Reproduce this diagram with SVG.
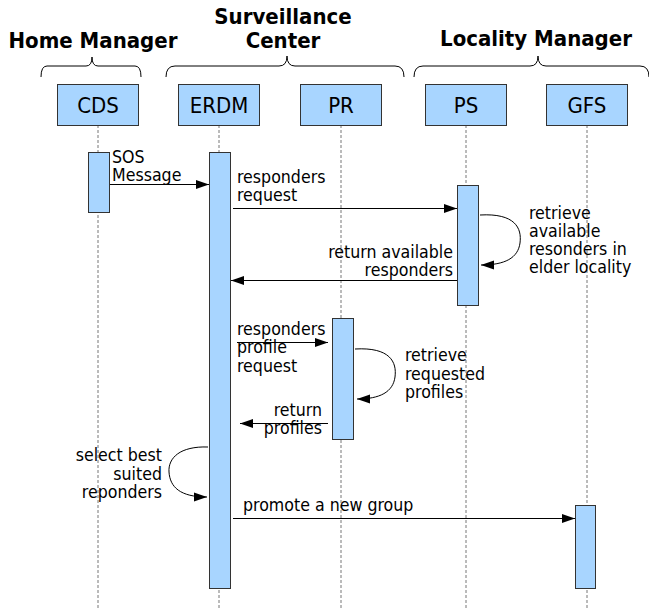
<svg xmlns="http://www.w3.org/2000/svg" width="649" height="610" viewBox="0 0 649 610">
<style>
.t{font-family:"DejaVu Sans Condensed","DejaVu Sans",sans-serif;font-stretch:condensed;font-size:17.6px;fill:#000}
.b{font-size:22px}
.h{font-family:"DejaVu Sans Condensed","DejaVu Sans",sans-serif;font-stretch:condensed;font-weight:bold;font-size:22px;fill:#000;text-anchor:middle}
.e{text-anchor:end}
.m{text-anchor:middle}
.box{fill:#a8d5ff;stroke:#333;stroke-width:1}
.bar{fill:#a8d5ff;stroke:#333;stroke-width:1}
.life{stroke:#777;stroke-width:1;stroke-dasharray:3,2;fill:none}
.msg{stroke:#000;stroke-width:1;fill:none;marker-end:url(#ah)}
.brace{stroke:#000;stroke-width:1;fill:none}
</style>
<defs>
<marker id="ah" markerWidth="13" markerHeight="10" refX="13" refY="5" orient="auto" markerUnits="userSpaceOnUse">
<path d="M0,0.5 L13,5 L0,9.5 Z" fill="#000"/>
</marker>
</defs>
<rect width="649" height="610" fill="#fff"/>
<g id="groups">
<text class="h" x="93" y="48">Home Manager</text>
<path class="brace" d="M41,77 Q41,66 47,66 L86,66 Q92,66 92,57 Q92,66 98,66 L135,66 Q141,66 141,77"/>
<text class="h" x="283" y="24">Surveillance</text>
<text class="h" x="283" y="48">Center</text>
<path class="brace" d="M166,77 Q166,66 175,66 L279,66 Q287,66 287,56 Q287,66 295,66 L395,66 Q404,66 404,77"/>
<text class="h" x="536" y="46">Locality Manager</text>
<path class="brace" d="M414,77 Q414,66 423,66 L530,66 Q538,66 538,56 Q538,66 546,66 L640,66 Q649,66 649,77"/>
</g>
<g id="lifelines">
<line class="life" x1="98" y1="125" x2="98" y2="610"/>
<line class="life" x1="219" y1="125" x2="219" y2="610"/>
<line class="life" x1="341" y1="125" x2="341" y2="610"/>
<line class="life" x1="466" y1="125" x2="466" y2="610"/>
<line class="life" x1="587" y1="125" x2="587" y2="610"/>
</g>
<g id="CDS"><rect class="box" x="57.5" y="84.5" width="81" height="41"/><text class="t b m" x="98" y="113">CDS</text><rect class="bar" x="88.5" y="152.5" width="21" height="60"/></g>
<g id="ERDM"><rect class="box" x="178.5" y="84.5" width="81" height="41"/><text class="t b m" x="219" y="113">ERDM</text><rect class="bar" x="209.5" y="152.5" width="21" height="436"/></g>
<g id="PR"><rect class="box" x="300.5" y="84.5" width="81" height="41"/><text class="t b m" x="341" y="113">PR</text><rect class="bar" x="332.5" y="318.5" width="21" height="121"/></g>
<g id="PS"><rect class="box" x="425.5" y="84.5" width="81" height="41"/><text class="t b m" x="466" y="113">PS</text><rect class="bar" x="457.5" y="185.5" width="21" height="120"/></g>
<g id="GFS"><rect class="box" x="546.5" y="84.5" width="81" height="41"/><text class="t b m" x="587" y="113">GFS</text><rect class="bar" x="575.5" y="505.5" width="20" height="83"/></g>
<g id="connectors">
<line class="msg" x1="110" y1="184.5" x2="209" y2="184.5"/>
<line class="msg" x1="233" y1="208.5" x2="457" y2="208.5"/>
<path class="msg" d="M480,215 C515,213 522,228 520,243 C518,258 505,265 481,265"/>
<line class="msg" x1="457" y1="280.5" x2="231" y2="280.5"/>
<line class="msg" x1="237" y1="342.5" x2="328" y2="342.5"/>
<path class="msg" d="M355,349 C390,347 397,362 395,377 C393,392 380,399 357,399"/>
<line class="msg" x1="328" y1="423.5" x2="240" y2="423.5"/>
<path class="msg" d="M208,447 C180,446 168,458 169,472 C170,487 180,497 207,497"/>
<line class="msg" x1="233" y1="518.5" x2="575" y2="518.5"/>
</g>
<g id="labels">
<text class="t" x="112" y="163">SOS</text>
<text class="t" x="112" y="181">Message</text>
<text class="t" x="237" y="183">responders</text>
<text class="t" x="237" y="201">request</text>
<text class="t" x="529" y="219">retrieve</text>
<text class="t" x="529" y="237">available</text>
<text class="t" x="529" y="255">resonders in</text>
<text class="t" x="529" y="273">elder locality</text>
<text class="t e" x="453" y="258">return available</text>
<text class="t e" x="453" y="276">responders</text>
<text class="t" x="237" y="335">responders</text>
<text class="t" x="237" y="353">profile</text>
<text class="t" x="237" y="372">request</text>
<text class="t" x="405" y="361">retrieve</text>
<text class="t" x="405" y="380">requested</text>
<text class="t" x="405" y="398">profiles</text>
<text class="t e" x="322" y="416">return</text>
<text class="t e" x="322" y="434">profiles</text>
<text class="t e" x="162" y="461">select best</text>
<text class="t e" x="162" y="480">suited</text>
<text class="t e" x="162" y="498">reponders</text>
<text class="t" x="243" y="511">promote a new group</text>
</g>
</svg>
